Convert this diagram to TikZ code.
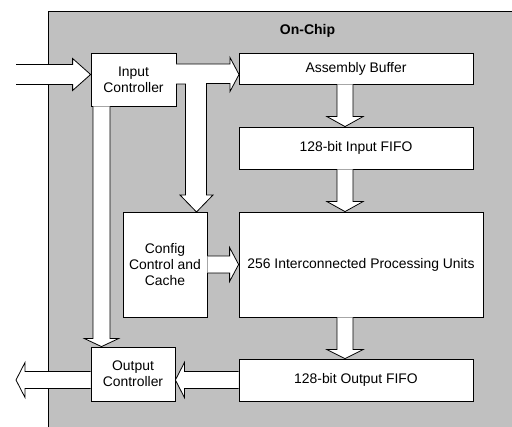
\documentclass[tikz,border=0pt]{standalone}
\usepackage{fontspec}
\setmainfont{Liberation Sans}
\usetikzlibrary{calc}
\definecolor{bggray}{RGB}{192,192,192}
\tikzset{
  blk/.style={draw=black, fill=white, line width=0.8pt, inner sep=0pt, align=center,
    font=\fontsize{13.9}{16}\selectfont},
  arrline/.style={draw=black, line width=0.8pt, line join=miter},
}
\newcommand\blkarrow[5]{%
  \coordinate (bkH) at ($(#2)!#5!(#1)$);
  \fill[white] ($(#1)!#3!90:(#2)$) -- ($(bkH)!#3!90:(#2)$) -- ($(bkH)!#4!90:(#2)$) -- (#2)
    -- ($(bkH)!#4!-90:(#2)$) -- ($(bkH)!#3!-90:(#2)$) -- ($(#1)!#3!-90:(#2)$) -- cycle;
  \draw[arrline] ($(#1)!#3!90:(#2)$) -- ($(bkH)!#3!90:(#2)$) -- ($(bkH)!#4!90:(#2)$) -- (#2)
    -- ($(bkH)!#4!-90:(#2)$) -- ($(bkH)!#3!-90:(#2)$) -- ($(#1)!#3!-90:(#2)$);
}
\begin{document}
\begin{tikzpicture}[x=1pt,y=-1pt]
\useasboundingbox (0,0) rectangle (512,427);
\begin{scope}
  \clip (0,0) rectangle (512,427);
  \draw[fill=bggray, line width=0.8pt] (48,11) rectangle (530,445);
\end{scope}
\node[font=\bfseries\fontsize{14}{16}\selectfont] (title) at (307.5,31) {On-Chip};

\node[blk, minimum width=85pt, minimum height=53pt] (inctl) at (133.5,79.5) {Input\\Controller};
\node[blk, minimum width=234pt, minimum height=31pt] (ab) at (356,68.5) {Assembly Buffer};
\node[blk, minimum width=234pt, minimum height=42pt] (infifo) at (356,148) {128-bit Input FIFO};
\node[blk, minimum width=84pt, minimum height=105pt] (cfg) at (165,264.5) {Config\\Control and\\Cache};
\node[blk, minimum width=244pt, minimum height=105pt] (pu) at (361,264.5) {256 Interconnected Processing Units};
\node[blk, minimum width=234pt, minimum height=42pt] (outfifo) at (356,380) {128-bit Output FIFO};
\node[blk, minimum width=84pt, minimum height=54pt] (outctl) at (133,374) {Output\\Controller};

% external input
\coordinate (inS) at (16,74.5);
\coordinate (inE) at (inctl.west |- inS);
\blkarrow{inS}{inE}{10pt}{16pt}{18pt}

% external output
\coordinate (oT) at (16,380);
\coordinate (oS) at (outctl.west |- oT);
\blkarrow{oS}{oT}{8.5pt}{17.5pt}{9pt}

% output fifo -> output controller
\coordinate (fE) at (outctl.east |- outfifo.west);
\blkarrow{outfifo.west}{fE}{8.5pt}{17.5pt}{9pt}

% config -> processing units
\blkarrow{cfg.east}{pu.west}{8.5pt}{17pt}{9pt}

% assembly buffer -> input fifo
\coordinate (v1s) at ($(ab.south)+(-11,0)$);
\coordinate (v1e) at (v1s |- infifo.north);
\blkarrow{v1s}{v1e}{8pt}{18pt}{10pt}

% input fifo -> processing units
\coordinate (v2s) at ($(infifo.south)+(-11,0)$);
\coordinate (v2e) at (v2s |- pu.north);
\blkarrow{v2s}{v2e}{8pt}{18pt}{10pt}

% processing units -> output fifo
\coordinate (v3s) at ($(pu.south)+(-16,0)$);
\coordinate (v3e) at (v3s |- outfifo.north);
\blkarrow{v3s}{v3e}{8pt}{18pt}{9pt}

% input controller -> output controller
\coordinate (v4s) at ($(inctl.south)+(-32,0)$);
\coordinate (v4e) at (v4s |- outctl.north);
\blkarrow{v4s}{v4e}{8.5pt}{17pt}{8pt}

% input controller -> assembly buffer and config control (branched arrow)
\fill[white] (176,64) -- (230,64) -- (230,57.5) -- (239,74.5) -- (230,91.5) -- (230,83.5)
  -- (206.5,83.5) -- (206.5,195) -- (213,195) -- (196.5,212) -- (180,195) -- (185.5,195)
  -- (185.5,84) -- (176,84) -- cycle;
\draw[arrline] (176,64) -- (230,64) -- (230,57.5) -- (239,74.5) -- (230,91.5) -- (230,83.5)
  -- (206.5,83.5) -- (206.5,195) -- (213,195) -- (196.5,212) -- (180,195) -- (185.5,195)
  -- (185.5,84) -- (176,84);
\end{tikzpicture}
\end{document}
